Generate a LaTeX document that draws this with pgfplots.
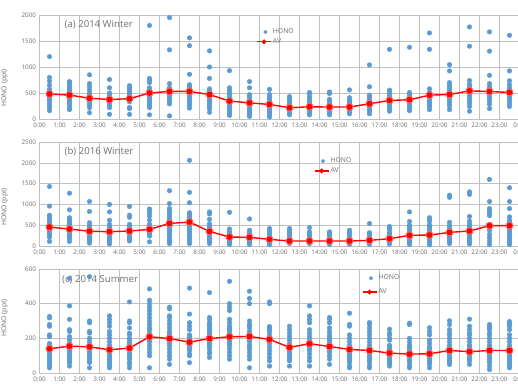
\documentclass[border=0pt]{standalone}
\usepackage{pgfplots}
\pgfplotsset{compat=1.18}
\usepackage{fontspec}
\setmainfont{Noto Sans}

\definecolor{honoblue}{RGB}{91,155,213}
\definecolor{gridgray}{RGB}{192,192,192}
\definecolor{txtgray}{RGB}{120,120,120}
\definecolor{avred}{RGB}{255,0,0}
\definecolor{avring}{RGB}{245,110,95}

\pgfplotsset{
  panel/.style={
    scale only axis, width=480pt, height=104pt,
    xmin=0, xmax=24, ymin=0,
    xtick={0,...,24},
    xticklabels={0:00,1:00,2:00,3:00,4:00,5:00,6:00,7:00,8:00,9:00,10:00,11:00,12:00,
      13:00,14:00,15:00,16:00,17:00,18:00,19:00,20:00,21:00,22:00,23:00,0:00},
    grid=major, major grid style={gridgray, line width=0.6pt},
    axis line style={gridgray, line width=0.6pt},
    tick style={draw=none},
    tick label style={font=\fontsize{6.3}{7}\selectfont, text=txtgray},
    /pgf/number format/assume math mode=true,
    /pgf/number format/1000 sep={},
    ylabel={HONO (ppt)},
    ylabel style={font=\fontsize{6.8}{7}\selectfont, text=txtgray},
    legend style={draw=none, fill=none, font=\fontsize{6.8}{7}\selectfont,
      text=txtgray, anchor=north west, row sep=1pt,
      nodes={inner sep=1.2pt}},
    legend cell align=left,
  },
  hono/.style={only marks, mark=*, mark size=2.3pt,
    mark options={fill=honoblue, draw=honoblue}},
  av/.style={avred, line width=1.4pt, mark=*, mark size=3.5pt,
    mark options={fill=avred, draw=avring, line width=0.9pt}},
  honolegend/.style={legend image code/.code={
    \fill[honoblue] (0.3cm,0cm) circle (1.8pt);}},
  avlegend/.style={legend image code/.code={
    \draw[avred, line width=1.2pt] (0cm,0cm) -- (0.5cm,0cm);
    \fill[avred] (0.25cm,0cm) circle (1.6pt);}},
}

\begin{document}
\begin{tikzpicture}

% ---------------- (a) 2014 Winter ----------------
\begin{axis}[panel, at={(39.5pt,-119pt)}, anchor=south west,
  ymax=2000, ytick={0,500,1000,1500,2000},
  ylabel style={at={(axis description cs:-0.058,0.30)}},
  legend style={at={(axis description cs:0.445,0.90)}}]
\addplot[hono, honolegend] coordinates {
 (0.5,1200)(0.5,800)(0.5,730)(0.5,650)(0.5,570)(0.5,550)(0.5,530)(0.5,510)(0.5,490)(0.5,470)
 (0.5,450)(0.5,430)(0.5,410)(0.5,390)(0.5,370)(0.5,350)(0.5,300)(0.5,260)(0.5,220)(0.5,160)
 (1.5,720)(1.5,700)(1.5,670)(1.5,620)(1.5,580)(1.5,550)(1.5,530)(1.5,500)(1.5,480)(1.5,460)
 (1.5,440)(1.5,410)(1.5,390)(1.5,370)(1.5,340)(1.5,310)(1.5,270)(1.5,220)(1.5,180)
 (2.5,850)(2.5,680)(2.5,620)(2.5,560)(2.5,500)(2.5,470)(2.5,450)(2.5,420)(2.5,400)(2.5,380)
 (2.5,350)(2.5,310)(2.5,270)(2.5,220)(2.5,120)
 (3.5,760)(3.5,600)(3.5,500)(3.5,470)(3.5,440)(3.5,410)(3.5,380)(3.5,350)(3.5,320)(3.5,290)
 (3.5,260)(3.5,220)(3.5,90)
 (4.5,640)(4.5,610)(4.5,580)(4.5,550)(4.5,520)(4.5,490)(4.5,460)(4.5,430)(4.5,400)(4.5,370)
 (4.5,330)(4.5,220)(4.5,200)(4.5,90)
 (5.5,1800)(5.5,780)(5.5,740)(5.5,700)(5.5,600)(5.5,560)(5.5,530)(5.5,500)(5.5,470)(5.5,440)
 (5.5,410)(5.5,380)(5.5,340)(5.5,300)(5.5,260)(5.5,220)(5.5,80)
 (6.5,1950)(6.5,1330)(6.5,680)(6.5,600)(6.5,560)(6.5,530)(6.5,500)(6.5,470)(6.5,440)(6.5,410)
 (6.5,370)(6.5,330)(6.5,290)(6.5,60)
 (7.5,1560)(7.5,1410)(7.5,860)(7.5,660)(7.5,630)(7.5,600)(7.5,570)(7.5,540)(7.5,510)(7.5,480)
 (7.5,450)(7.5,420)(7.5,390)(7.5,350)(7.5,300)(7.5,260)(7.5,210)
 (8.5,1310)(8.5,1000)(8.5,780)(8.5,580)(8.5,550)(8.5,520)(8.5,490)(8.5,460)(8.5,430)(8.5,400)
 (8.5,370)(8.5,340)(8.5,300)(8.5,260)(8.5,230)(8.5,200)(8.5,130)
 (9.5,930)(9.5,600)(9.5,550)(9.5,500)(9.5,460)(9.5,420)(9.5,380)(9.5,340)(9.5,300)(9.5,260)
 (9.5,220)(9.5,180)(9.5,140)(9.5,100)(9.5,70)
 (10.5,720)(10.5,600)(10.5,470)(10.5,440)(10.5,400)(10.5,360)(10.5,320)(10.5,280)(10.5,240)
 (10.5,200)(10.5,160)(10.5,120)(10.5,80)(10.5,50)
 (11.5,570)(11.5,470)(11.5,430)(11.5,400)(11.5,370)(11.5,340)(11.5,310)(11.5,280)(11.5,250)
 (11.5,220)(11.5,190)(11.5,160)(11.5,120)(11.5,80)(11.5,40)
 (12.5,430)(12.5,400)(12.5,370)(12.5,340)(12.5,310)(12.5,280)(12.5,250)(12.5,220)(12.5,190)
 (12.5,160)(12.5,120)(12.5,80)
 (13.5,510)(13.5,490)(13.5,430)(13.5,380)(13.5,340)(13.5,300)(13.5,270)(13.5,240)(13.5,210)
 (13.5,180)(13.5,150)(13.5,110)(13.5,80)
 (14.5,520)(14.5,490)(14.5,380)(14.5,350)(14.5,320)(14.5,290)(14.5,260)(14.5,230)(14.5,200)
 (14.5,170)(14.5,140)(14.5,110)(14.5,80)
 (15.5,560)(15.5,410)(15.5,370)(15.5,340)(15.5,310)(15.5,280)(15.5,250)(15.5,220)(15.5,190)
 (15.5,160)(15.5,130)(15.5,100)
 (16.5,1040)(16.5,620)(16.5,460)(16.5,420)(16.5,390)(16.5,360)(16.5,330)(16.5,300)(16.5,270)
 (16.5,240)(16.5,210)(16.5,180)(16.5,150)(16.5,100)
 (17.5,1340)(17.5,555)(17.5,520)(17.5,480)(17.5,440)(17.5,410)(17.5,380)(17.5,350)(17.5,320)
 (17.5,290)(17.5,260)(17.5,230)(17.5,190)(17.5,150)
 (18.5,1380)(18.5,510)(18.5,470)(18.5,440)(18.5,410)(18.5,380)(18.5,350)(18.5,320)(18.5,290)
 (18.5,260)(18.5,230)(18.5,200)(18.5,160)
 (19.5,1655)(19.5,1340)(19.5,580)(19.5,510)(19.5,480)(19.5,450)(19.5,420)(19.5,390)(19.5,360)
 (19.5,330)(19.5,300)(19.5,270)(19.5,230)(19.5,180)
 (20.5,1045)(20.5,925)(20.5,700)(20.5,670)(20.5,630)(20.5,590)(20.5,550)(20.5,510)(20.5,470)
 (20.5,430)(20.5,390)(20.5,350)(20.5,300)(20.5,250)(20.5,180)
 (21.5,1770)(21.5,1400)(21.5,740)(21.5,670)(21.5,620)(21.5,590)(21.5,560)(21.5,530)(21.5,500)
 (21.5,470)(21.5,440)(21.5,400)(21.5,350)(21.5,300)(21.5,240)(21.5,150)
 (22.5,1675)(22.5,1305)(22.5,840)(22.5,680)(22.5,620)(22.5,580)(22.5,550)(22.5,520)(22.5,490)
 (22.5,460)(22.5,430)(22.5,390)(22.5,340)(22.5,280)(22.5,200)
 (23.5,1610)(23.5,925)(23.5,735)(23.5,660)(23.5,600)(23.5,570)(23.5,540)(23.5,510)(23.5,480)
 (23.5,450)(23.5,420)(23.5,390)(23.5,340)(23.5,290)(23.5,240)
};
\addlegendentry{HONO}
\addplot[av, avlegend] coordinates {
 (0.5,480)(1.5,460)(2.5,400)(3.5,375)(4.5,390)(5.5,500)(6.5,530)(7.5,530)
 (8.5,470)(9.5,345)(10.5,310)(11.5,280)(12.5,217)(13.5,235)(14.5,230)(15.5,230)
 (16.5,293)(17.5,357)(18.5,370)(19.5,459)(20.5,471)(21.5,541)(22.5,529)(23.5,510)
};
\addlegendentry{AV}
\node[anchor=west, font=\fontsize{9.6}{10}\selectfont, text=txtgray]
  at (axis description cs:0.045,0.905) {(a) 2014 Winter};
\end{axis}

% ---------------- (b) 2016 Winter ----------------
\begin{axis}[panel, at={(39.5pt,-246pt)}, anchor=south west,
  ymax=2500, ytick={0,500,1000,1500,2000,2500},
  ylabel style={at={(axis description cs:-0.058,0.375)}},
  legend style={at={(axis description cs:0.565,0.88)}}]
\addplot[hono, honolegend] coordinates {
 (0.5,1430)(0.5,960)(0.5,740)(0.5,700)(0.5,640)(0.5,580)(0.5,540)(0.5,500)(0.5,470)(0.5,440)
 (0.5,410)(0.5,380)(0.5,340)(0.5,300)(0.5,250)(0.5,210)(0.5,110)
 (1.5,1270)(1.5,870)(1.5,680)(1.5,640)(1.5,600)(1.5,560)(1.5,520)(1.5,490)(1.5,460)(1.5,430)
 (1.5,400)(1.5,370)(1.5,340)(1.5,300)(1.5,260)(1.5,220)(1.5,180)(1.5,110)
 (2.5,1070)(2.5,830)(2.5,560)(2.5,500)(2.5,460)(2.5,420)(2.5,390)(2.5,360)(2.5,330)(2.5,300)
 (2.5,270)(2.5,240)(2.5,200)(2.5,160)(2.5,120)(2.5,70)
 (3.5,1000)(3.5,820)(3.5,620)(3.5,520)(3.5,470)(3.5,430)(3.5,390)(3.5,360)(3.5,330)(3.5,300)
 (3.5,270)(3.5,230)(3.5,190)(3.5,150)(3.5,100)(3.5,50)
 (4.5,950)(4.5,740)(4.5,690)(4.5,520)(4.5,480)(4.5,440)(4.5,410)(4.5,380)(4.5,350)(4.5,320)
 (4.5,290)(4.5,250)(4.5,210)(4.5,170)(4.5,120)
 (5.5,890)(5.5,860)(5.5,790)(5.5,720)(5.5,620)(5.5,520)(5.5,490)(5.5,460)(5.5,430)(5.5,400)
 (5.5,370)(5.5,340)(5.5,310)(5.5,280)(5.5,240)(5.5,100)
 (6.5,1330)(6.5,1020)(6.5,900)(6.5,850)(6.5,800)(6.5,750)(6.5,700)(6.5,650)(6.5,610)(6.5,570)
 (6.5,530)(6.5,490)(6.5,450)(6.5,410)(6.5,370)(6.5,330)(6.5,290)(6.5,250)(6.5,200)(6.5,140)
 (6.5,100)(6.5,60)
 (7.5,2060)(7.5,1290)(7.5,1040)(7.5,800)(7.5,760)(7.5,720)(7.5,680)(7.5,640)(7.5,600)(7.5,560)
 (7.5,520)(7.5,480)(7.5,440)(7.5,400)(7.5,340)(7.5,280)(7.5,220)(7.5,180)(7.5,120)(7.5,60)
 (8.5,820)(8.5,770)(8.5,640)(8.5,530)(8.5,470)(8.5,440)(8.5,410)(8.5,380)(8.5,350)(8.5,320)
 (8.5,290)(8.5,260)(8.5,230)(8.5,190)(8.5,150)(8.5,110)(8.5,60)
 (9.5,810)(9.5,410)(9.5,340)(9.5,300)(9.5,270)(9.5,240)(9.5,210)(9.5,180)(9.5,150)(9.5,120)
 (9.5,90)(9.5,60)(9.5,40)
 (10.5,650)(10.5,380)(10.5,340)(10.5,300)(10.5,270)(10.5,240)(10.5,210)(10.5,180)(10.5,150)
 (10.5,120)(10.5,90)(10.5,60)(10.5,40)
 (11.5,420)(11.5,380)(11.5,340)(11.5,300)(11.5,260)(11.5,220)(11.5,180)(11.5,140)(11.5,100)
 (11.5,60)(11.5,30)
 (12.5,420)(12.5,380)(12.5,340)(12.5,300)(12.5,260)(12.5,220)(12.5,180)(12.5,140)(12.5,100)
 (12.5,60)
 (13.5,440)(13.5,340)(13.5,300)(13.5,260)(13.5,220)(13.5,180)(13.5,140)(13.5,100)(13.5,60)
 (14.5,340)(14.5,310)(14.5,280)(14.5,240)(14.5,200)(14.5,160)(14.5,120)(14.5,80)(14.5,40)
 (15.5,380)(15.5,320)(15.5,280)(15.5,240)(15.5,200)(15.5,160)(15.5,120)(15.5,80)(15.5,40)
 (16.5,540)(16.5,320)(16.5,280)(16.5,240)(16.5,200)(16.5,160)(16.5,120)(16.5,80)(16.5,40)
 (17.5,470)(17.5,430)(17.5,400)(17.5,330)(17.5,290)(17.5,250)(17.5,210)(17.5,170)(17.5,130)
 (17.5,90)(17.5,50)
 (18.5,820)(18.5,590)(18.5,500)(18.5,470)(18.5,440)(18.5,400)(18.5,360)(18.5,320)(18.5,280)
 (18.5,240)(18.5,200)(18.5,160)(18.5,120)(18.5,80)(18.5,40)
 (19.5,680)(19.5,640)(19.5,600)(19.5,510)(19.5,470)(19.5,430)(19.5,390)(19.5,350)(19.5,310)
 (19.5,270)(19.5,230)(19.5,190)(19.5,150)(19.5,110)(19.5,70)(19.5,30)
 (20.5,1220)(20.5,1170)(20.5,570)(20.5,500)(20.5,460)(20.5,420)(20.5,380)(20.5,340)(20.5,300)
 (20.5,260)(20.5,220)(20.5,180)(20.5,140)(20.5,100)(20.5,60)
 (21.5,1300)(21.5,1240)(21.5,710)(21.5,600)(21.5,530)(21.5,490)(21.5,450)(21.5,410)(21.5,370)
 (21.5,330)(21.5,290)(21.5,250)(21.5,200)(21.5,150)(21.5,100)(21.5,50)
 (22.5,1600)(22.5,1070)(22.5,900)(22.5,840)(22.5,780)(22.5,730)(22.5,440)(22.5,380)(22.5,280)
 (22.5,200)(22.5,120)(22.5,40)
 (23.5,1400)(23.5,1070)(23.5,900)(23.5,700)(23.5,620)(23.5,580)(23.5,500)(23.5,460)(23.5,420)
 (23.5,380)(23.5,330)(23.5,280)(23.5,230)(23.5,180)(23.5,130)(23.5,80)(23.5,40)
};
\addlegendentry{HONO}
\addplot[av, avlegend] coordinates {
 (0.5,455)(1.5,407)(2.5,355)(3.5,344)(4.5,360)(5.5,400)(6.5,543)(7.5,575)
 (8.5,351)(9.5,216)(10.5,208)(11.5,160)(12.5,120)(13.5,120)(14.5,120)(15.5,120)
 (16.5,136)(17.5,176)(18.5,256)(19.5,264)(20.5,328)(21.5,360)(22.5,488)(23.5,490)
};
\addlegendentry{AV}
\node[anchor=west, font=\fontsize{9.6}{10}\selectfont, text=txtgray]
  at (axis description cs:0.045,0.905) {(b) 2016 Winter};
\end{axis}

% ---------------- (c) 2014 Summer ----------------
\begin{axis}[panel, at={(39.5pt,-373pt)}, anchor=south west,
  ymax=600, ytick={0,200,400,600},
  ylabel style={at={(axis description cs:-0.058,0.53)}},
  legend style={at={(axis description cs:0.665,0.975)}, row sep=5pt}]
\addplot[hono, honolegend] coordinates {
 (0.5,326)(0.5,318)(0.5,280)(0.5,270)(0.5,220)(0.5,210)(0.5,170)(0.5,160)(0.5,150)(0.5,140)
 (0.5,130)(0.5,120)(0.5,110)(0.5,100)(0.5,90)(0.5,80)(0.5,70)(0.5,60)(0.5,50)(0.5,40)(0.5,30)
 (1.5,546)(1.5,387)(1.5,310)(1.5,250)(1.5,240)(1.5,210)(1.5,190)(1.5,170)(1.5,160)(1.5,150)
 (1.5,140)(1.5,130)(1.5,120)(1.5,110)(1.5,100)(1.5,90)(1.5,80)(1.5,70)(1.5,60)(1.5,40)
 (2.5,556)(2.5,300)(2.5,290)(2.5,240)(2.5,230)(2.5,200)(2.5,180)(2.5,160)(2.5,150)(2.5,140)
 (2.5,130)(2.5,120)(2.5,110)(2.5,100)(2.5,90)(2.5,80)(2.5,70)(2.5,60)(2.5,30)
 (3.5,330)(3.5,310)(3.5,290)(3.5,270)(3.5,240)(3.5,220)(3.5,200)(3.5,180)(3.5,160)(3.5,150)
 (3.5,140)(3.5,130)(3.5,120)(3.5,110)(3.5,100)(3.5,90)(3.5,80)(3.5,70)(3.5,60)(3.5,50)
 (3.5,40)(3.5,30)
 (4.5,410)(4.5,300)(4.5,290)(4.5,260)(4.5,230)(4.5,220)(4.5,200)(4.5,190)(4.5,180)(4.5,170)
 (4.5,160)(4.5,150)(4.5,140)(4.5,120)(4.5,110)(4.5,100)(4.5,90)(4.5,80)(4.5,60)(4.5,50)(4.5,30)
 (5.5,485)(5.5,420)(5.5,400)(5.5,380)(5.5,360)(5.5,340)(5.5,320)(5.5,300)(5.5,280)(5.5,260)
 (5.5,250)(5.5,230)(5.5,210)(5.5,200)(5.5,190)(5.5,180)(5.5,160)(5.5,140)(5.5,120)(5.5,100)
 (5.5,30)
 (6.5,380)(6.5,370)(6.5,330)(6.5,320)(6.5,300)(6.5,280)(6.5,260)(6.5,240)(6.5,230)(6.5,220)
 (6.5,210)(6.5,200)(6.5,190)(6.5,180)(6.5,170)(6.5,160)(6.5,140)(6.5,120)(6.5,100)(6.5,80)
 (6.5,50)
 (7.5,490)(7.5,340)(7.5,290)(7.5,270)(7.5,250)(7.5,220)(7.5,210)(7.5,200)(7.5,190)(7.5,180)
 (7.5,170)(7.5,160)(7.5,150)(7.5,140)(7.5,130)(7.5,110)(7.5,100)(7.5,60)
 (8.5,464)(8.5,320)(8.5,310)(8.5,290)(8.5,280)(8.5,270)(8.5,260)(8.5,250)(8.5,240)(8.5,230)
 (8.5,220)(8.5,210)(8.5,200)(8.5,190)(8.5,180)(8.5,170)(8.5,160)(8.5,150)(8.5,140)(8.5,120)
 (8.5,110)(8.5,90)
 (9.5,529)(9.5,400)(9.5,380)(9.5,360)(9.5,310)(9.5,290)(9.5,270)(9.5,260)(9.5,250)(9.5,240)
 (9.5,230)(9.5,220)(9.5,210)(9.5,200)(9.5,190)(9.5,180)(9.5,170)(9.5,160)(9.5,140)(9.5,120)
 (9.5,100)(9.5,80)
 (10.5,472)(10.5,430)(10.5,400)(10.5,300)(10.5,280)(10.5,270)(10.5,260)(10.5,240)(10.5,230)
 (10.5,220)(10.5,200)(10.5,190)(10.5,180)(10.5,160)(10.5,150)(10.5,140)(10.5,120)(10.5,100)
 (10.5,80)(10.5,30)
 (11.5,410)(11.5,400)(11.5,268)(11.5,260)(11.5,250)(11.5,240)(11.5,220)(11.5,200)(11.5,190)
 (11.5,180)(11.5,170)(11.5,150)(11.5,130)(11.5,110)(11.5,90)(11.5,70)(11.5,40)
 (12.5,270)(12.5,250)(12.5,230)(12.5,210)(12.5,190)(12.5,170)(12.5,150)(12.5,130)(12.5,120)
 (12.5,110)(12.5,100)(12.5,90)(12.5,80)(12.5,70)(12.5,40)
 (13.5,387)(13.5,330)(13.5,310)(13.5,290)(13.5,250)(13.5,230)(13.5,210)(13.5,190)(13.5,180)
 (13.5,170)(13.5,160)(13.5,150)(13.5,140)(13.5,130)(13.5,110)(13.5,90)(13.5,70)(13.5,40)
 (14.5,320)(14.5,310)(14.5,290)(14.5,260)(14.5,240)(14.5,220)(14.5,210)(14.5,200)(14.5,190)
 (14.5,180)(14.5,170)(14.5,160)(14.5,150)(14.5,140)(14.5,130)(14.5,120)(14.5,100)(14.5,80)
 (14.5,50)
 (15.5,345)(15.5,280)(15.5,270)(15.5,220)(15.5,200)(15.5,180)(15.5,160)(15.5,150)(15.5,140)
 (15.5,130)(15.5,120)(15.5,110)(15.5,100)(15.5,90)(15.5,80)(15.5,70)(15.5,60)(15.5,40)(15.5,30)
 (16.5,291)(16.5,280)(16.5,260)(16.5,240)(16.5,220)(16.5,200)(16.5,180)(16.5,160)(16.5,150)
 (16.5,140)(16.5,130)(16.5,120)(16.5,110)(16.5,100)(16.5,90)(16.5,80)(16.5,70)(16.5,60)
 (16.5,40)(16.5,30)
 (17.5,253)(17.5,230)(17.5,220)(17.5,200)(17.5,190)(17.5,160)(17.5,150)(17.5,140)(17.5,130)
 (17.5,120)(17.5,110)(17.5,100)(17.5,90)(17.5,80)(17.5,70)(17.5,60)(17.5,50)(17.5,40)
 (18.5,288)(18.5,280)(18.5,200)(18.5,180)(18.5,160)(18.5,150)(18.5,140)(18.5,130)(18.5,120)
 (18.5,110)(18.5,100)(18.5,90)(18.5,80)(18.5,70)(18.5,60)(18.5,40)(18.5,30)
 (19.5,261)(19.5,240)(19.5,220)(19.5,190)(19.5,170)(19.5,150)(19.5,140)(19.5,130)(19.5,120)
 (19.5,110)(19.5,100)(19.5,90)(19.5,80)(19.5,70)(19.5,60)(19.5,50)(19.5,30)
 (20.5,301)(20.5,280)(20.5,250)(20.5,230)(20.5,220)(20.5,200)(20.5,180)(20.5,160)(20.5,150)
 (20.5,140)(20.5,130)(20.5,120)(20.5,110)(20.5,100)(20.5,90)(20.5,80)(20.5,70)(20.5,60)(20.5,50)
 (21.5,311)(21.5,270)(21.5,250)(21.5,230)(21.5,220)(21.5,200)(21.5,180)(21.5,160)(21.5,150)
 (21.5,140)(21.5,130)(21.5,120)(21.5,110)(21.5,100)(21.5,90)(21.5,80)(21.5,70)(21.5,50)
 (22.5,280)(22.5,270)(22.5,260)(22.5,250)(22.5,230)(22.5,220)(22.5,200)(22.5,180)(22.5,160)
 (22.5,150)(22.5,140)(22.5,130)(22.5,120)(22.5,110)(22.5,100)(22.5,90)(22.5,80)(22.5,70)
 (22.5,60)(22.5,40)(22.5,20)
 (23.5,297)(23.5,290)(23.5,280)(23.5,270)(23.5,250)(23.5,220)(23.5,200)(23.5,180)(23.5,160)
 (23.5,150)(23.5,140)(23.5,130)(23.5,120)(23.5,110)(23.5,100)(23.5,90)(23.5,80)(23.5,70)
 (23.5,60)(23.5,50)(23.5,40)(23.5,30)
};
\addlegendentry{HONO}
\addplot[av, avlegend] coordinates {
 (0.5,140)(1.5,155)(2.5,151)(3.5,134)(4.5,144)(5.5,209)(6.5,199)(7.5,178)
 (8.5,199)(9.5,209)(10.5,211)(11.5,194)(12.5,148)(13.5,169)(14.5,153)(15.5,136)
 (16.5,130)(17.5,115)(18.5,109)(19.5,111)(20.5,130)(21.5,123)(22.5,130)(23.5,130)
};
\addlegendentry{AV}
\node[anchor=west, font=\fontsize{9.6}{10}\selectfont, text=txtgray]
  at (axis description cs:0.04,0.895) {(c) 2014 Summer};
\end{axis}

\pgfresetboundingbox
\useasboundingbox (0pt,0pt) rectangle (518pt,-383pt);
\end{tikzpicture}
\end{document}
